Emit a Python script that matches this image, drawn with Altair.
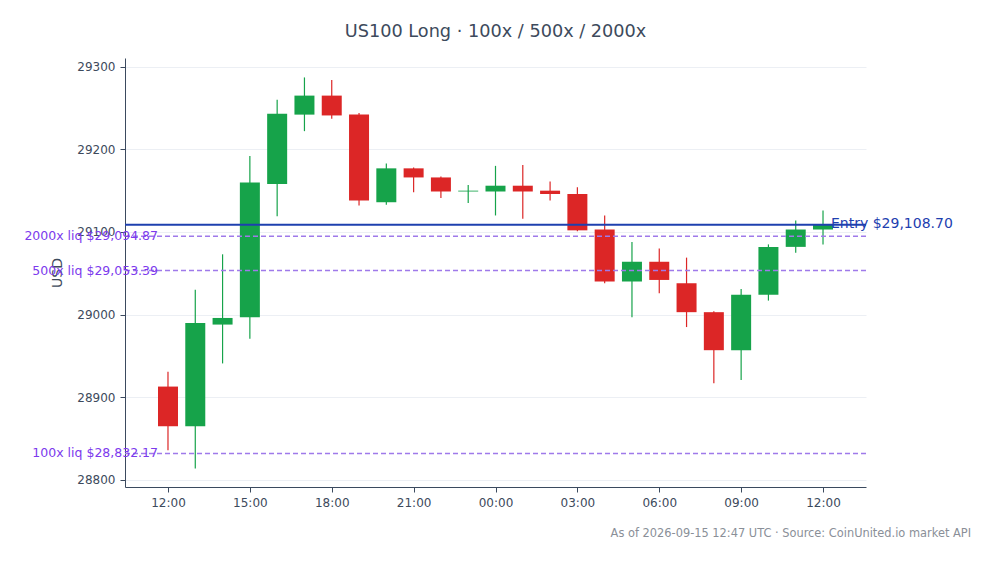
import altair as alt
import pandas as pd

# ---- data ----
times = [
    "2026-09-14T12:00:00Z", "2026-09-14T13:00:00Z", "2026-09-14T14:00:00Z",
    "2026-09-14T15:00:00Z", "2026-09-14T16:00:00Z", "2026-09-14T17:00:00Z",
    "2026-09-14T18:00:00Z", "2026-09-14T19:00:00Z", "2026-09-14T20:00:00Z",
    "2026-09-14T21:00:00Z", "2026-09-14T22:00:00Z", "2026-09-14T23:00:00Z",
    "2026-09-15T00:00:00Z", "2026-09-15T01:00:00Z", "2026-09-15T02:00:00Z",
    "2026-09-15T03:00:00Z", "2026-09-15T04:00:00Z", "2026-09-15T05:00:00Z",
    "2026-09-15T06:00:00Z", "2026-09-15T07:00:00Z", "2026-09-15T08:00:00Z",
    "2026-09-15T09:00:00Z", "2026-09-15T10:00:00Z", "2026-09-15T11:00:00Z",
    "2026-09-15T12:00:00Z",
]
opens = [28913, 28865, 28988, 28997, 29158, 29242, 29265, 29242, 29136, 29177,
         29166, 29149, 29149, 29156, 29150, 29146, 29103, 29040, 29064, 29038,
         29003, 28957, 29024, 29082, 29103]
highs = [28931, 29030, 29073, 29192, 29260, 29287, 29284, 29244, 29183, 29178,
         29167, 29157, 29180, 29181, 29161, 29154, 29120, 29088, 29080, 29069,
         29004, 29031, 29085, 29114, 29126]
lows = [28836, 28814, 28941, 28971, 29119, 29222, 29237, 29132, 29133, 29148,
        29141, 29135, 29120, 29116, 29138, 29101, 29038, 28997, 29026, 28985,
        28917, 28921, 29017, 29075, 29085]
closes = [28865, 28990, 28996, 29160, 29243, 29265, 29241, 29138, 29177, 29166,
          29149, 29150, 29156, 29149, 29146, 29102, 29040, 29064, 29042, 29003,
          28957, 29024, 29082, 29103, 29108.70]

entry_name = "Entry"
entry_price = 29108.70
liq_names = ["2000x liq", "500x liq", "100x liq"]
liq_prices = [29094.87, 29053.39, 28832.17]

y_ticks = [28800, 28900, 29000, 29100, 29200, 29300]
x_ticks = ["2026-09-14T12:00:00Z", "2026-09-14T15:00:00Z", "2026-09-14T18:00:00Z",
           "2026-09-14T21:00:00Z", "2026-09-15T00:00:00Z", "2026-09-15T03:00:00Z",
           "2026-09-15T06:00:00Z", "2026-09-15T09:00:00Z", "2026-09-15T12:00:00Z"]
title_text = "US100 Long · 100x / 500x / 2000x"
footer_text = "As of 2026-09-15 12:47 UTC · Source: CoinUnited.io market API"

# ---- styling ----
GREEN = "#16a34a"
RED = "#dc2626"
BLUE = "#1e40af"
LIQ_LINE = "#9f7aea"
LIQ_TEXT = "#7c3aed"
FONT = "DejaVu Sans"
INK = "#3d4a5c"


def ms(s):
    return int(pd.Timestamp(s).value // 10**6)


candles = pd.DataFrame({"time": [ms(t) for t in times], "open": opens, "high": highs,
                        "low": lows, "close": closes})
entry_df = pd.DataFrame({"price": [entry_price],
                         "label": [f"{entry_name} ${entry_price:,.2f}"]})
liq_df = pd.DataFrame({"price": liq_prices,
                       "label": [f"{n} ${p:,.2f}" for n, p in zip(liq_names, liq_prices)]})
footer_df = pd.DataFrame({"t": [footer_text]})

x_dom = [ms("2026-09-14T10:25:30Z"), ms("2026-09-15T13:34:30Z")]
y_scale = alt.Scale(domain=[28791.5, 29310.5], nice=False, zero=False)

x_enc = alt.X("time:Q",
              scale=alt.Scale(domain=x_dom, nice=False, zero=False, padding=0),
              axis=alt.Axis(title=None, values=[ms(t) for t in x_ticks],
                            labelExpr="utcFormat(datum.value, '%H:%M')",
                            grid=False, tickSize=5, labelPadding=5))


def y_enc(field):
    return alt.Y(field, scale=y_scale,
                 axis=alt.Axis(title="USD", values=y_ticks, format="d",
                               grid=True, tickSize=5, labelPadding=5,
                               titlePadding=12))


color_cond = alt.condition("datum.close >= datum.open", alt.value(GREEN), alt.value(RED))

wicks = alt.Chart(candles).mark_rule(strokeWidth=1.2).encode(
    x=x_enc, y=y_enc("low:Q"), y2="high:Q", color=color_cond)
bodies = alt.Chart(candles).mark_bar(size=20).encode(
    x=x_enc, y=y_enc("open:Q"), y2="close:Q", color=color_cond)

entry_rule = alt.Chart(entry_df).mark_rule(color=BLUE, strokeWidth=2).encode(
    y=y_enc("price:Q"))
liq_rules = alt.Chart(liq_df).mark_rule(color=LIQ_LINE, strokeWidth=1.5,
                                        strokeDash=[5, 3]).encode(y=y_enc("price:Q"))

entry_text = alt.Chart(entry_df).mark_text(align="left", baseline="middle",
                                           fontSize=14, color=BLUE, dy=-1).encode(
    x=alt.value(706), y=y_enc("price:Q"), text="label:N")
liq_text = alt.Chart(liq_df).mark_text(align="right", baseline="middle",
                                       fontSize=12.5, color=LIQ_TEXT).encode(
    x=alt.value(33), y=y_enc("price:Q"), text="label:N")

footer = alt.Chart(footer_df).mark_text(align="right", baseline="middle",
                                        fontSize=11.4, color="#8a8f98").encode(
    x=alt.value(846), y=alt.value(476), text="t:N")

chart = alt.layer(wicks, bodies, entry_rule, liq_rules, entry_text, liq_text, footer).properties(
    width=741, height=429,
    title=alt.TitleParams(title_text, fontSize=17.7, font=FONT, fontWeight="normal",
                          color=INK, anchor="middle", offset=17),
    autosize=alt.AutoSizeParams(type="none"),
    padding={"left": 117, "top": 50, "right": 120, "bottom": 70},
).configure(font=FONT).configure_view(stroke=None).configure_axis(
    labelFont=FONT, labelFontSize=12, labelColor=INK,
    titleFont=FONT, titleFontSize=14, titleColor=INK, titleFontWeight="normal",
    domainColor="#3b4a5e", tickColor="#3b4a5e", gridColor="#eceff4",
)

chart.save("out.html", embed_options={"renderer": "svg", "actions": False})
